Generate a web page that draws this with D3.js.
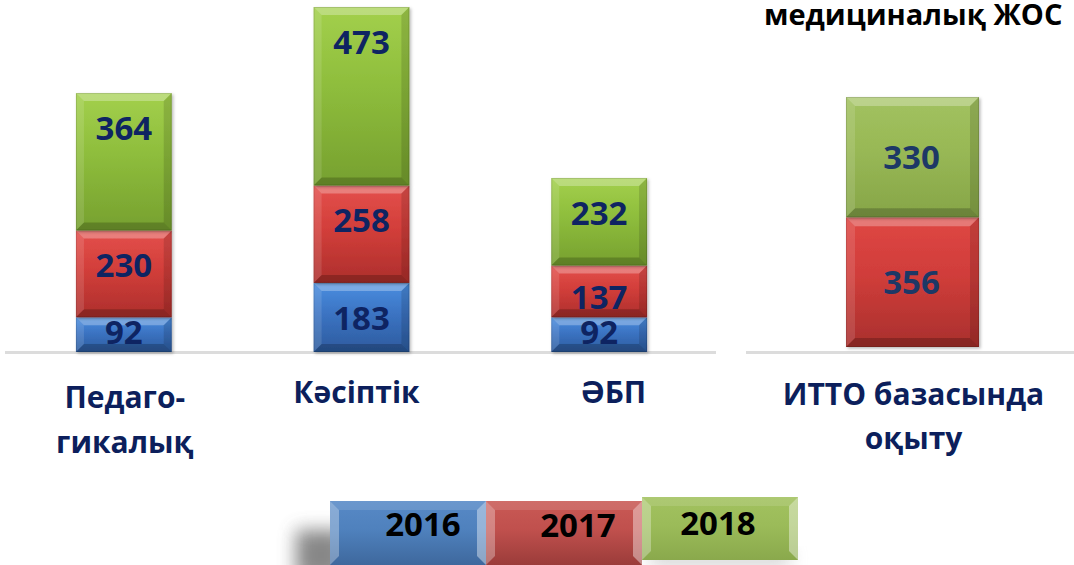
<!DOCTYPE html>
<html><head><meta charset="utf-8">
<script src="https://cdn.jsdelivr.net/npm/d3@7"></script>
<style>body{margin:0;background:#fff;overflow:hidden} svg{display:block;font-family:"Open Sans",sans-serif;}</style>
</head><body><svg id="c" width="1074" height="565"></svg>
<script>
// ---------- data ----------
const categories = ["Педаго-\nгикалық", "Кәсіптік", "ӘБП"];
const years = ["2016", "2017", "2018"];
const values2016 = [92, 183, 92];
const values2017 = [230, 258, 137];
const values2018 = [364, 473, 232];
const rightCategories = ["ИТТО базасында\nоқыту"];
const rightYears = ["2017", "2018"];
const right2017 = [356];
const right2018 = [330];
const titleText = "медициналық ЖОС";

// ---------- layout / style ----------
const svg = d3.select("#c");
const defs = svg.append("defs");
const colLeft = {
  "2016": ["#4a8ee0", "#3b73c2", "#2d5b9e"],
  "2017": ["#e4504c", "#d23e3a", "#ad2f2c"],
  "2018": ["#a3d04c", "#8ebd3c", "#76a02f"]
};
const colRight = {
  "2017": ["#df4744", "#d03d3a", "#a9302d"],
  "2018": ["#a2c260", "#98b855", "#86a548"]
};
const colLegend = {
  "2016": ["#5789c6", "#4f81bd", "#3e689d"],
  "2017": ["#c95955", "#c0504d", "#9b3c3a"],
  "2018": ["#a2c25f", "#9bbb59", "#8aa94c"]
};
function grad(id, c) {
  const g = defs.append("linearGradient").attr("id", id).attr("x1", 0).attr("y1", 0).attr("x2", 0).attr("y2", 1);
  g.append("stop").attr("offset", "0%").attr("stop-color", c[0]);
  g.append("stop").attr("offset", "45%").attr("stop-color", c[1]);
  g.append("stop").attr("offset", "100%").attr("stop-color", c[2]);
  return "url(#" + id + ")";
}
const sh = defs.append("filter").attr("id", "sh").attr("x", "-20%").attr("y", "-20%").attr("width", "140%").attr("height", "140%");
sh.append("feDropShadow").attr("dx", 1.5).attr("dy", 1.5).attr("stdDeviation", 1.8).attr("flood-color", "#000").attr("flood-opacity", 0.28);
const blur = defs.append("filter").attr("id", "blur").attr("x", "-50%").attr("y", "-50%").attr("width", "200%").attr("height", "200%");
blur.append("feGaussianBlur").attr("stdDeviation", 9);

function bevelBox(g, x, y, w, h, b, fill) {
  const grp = g.append("g").attr("filter", "url(#sh)");
  grp.append("rect").attr("x", x).attr("y", y).attr("width", w).attr("height", h).attr("fill", fill);
  const bb = Math.min(b, h / 3);
  const poly = (pts, f, o) => grp.append("polygon").attr("points", pts.map(p => p.join(",")).join(" ")).attr("fill", f).attr("fill-opacity", o);
  poly([[x, y], [x + w, y], [x + w - bb, y + bb], [x + bb, y + bb]], "#fff", 0.28);
  poly([[x, y], [x + bb, y + bb], [x + bb, y + h - bb], [x, y + h]], "#fff", 0.12);
  poly([[x + w, y], [x + w, y + h], [x + w - bb, y + h - bb], [x + w - bb, y + bb]], "#000", 0.13);
  poly([[x, y + h], [x + bb, y + h - bb], [x + w - bb, y + h - bb], [x + w, y + h]], "#000", 0.2);
  grp.append("rect").attr("x", x + 0.5).attr("y", y + 0.5).attr("width", w - 1).attr("height", h - 1)
    .attr("fill", "none").attr("stroke", "#000").attr("stroke-opacity", 0.12);
}

// ---------- left panel ----------
const baseL = 352;
const xL = d3.scaleBand().domain(categories).range([5, 718]).paddingInner(0.597).paddingOuter(0.2985);
const totalsL = categories.map((c, i) => values2016[i] + values2017[i] + values2018[i]);
const yL = d3.scaleLinear().domain([0, d3.max(totalsL)]).range([baseL, 7]);
const rowsL = categories.map((c, i) => ({cat: c, "2016": values2016[i], "2017": values2017[i], "2018": values2018[i]}));
const stackL = d3.stack().keys(years)(rowsL);

svg.append("line").attr("x1", xL.range()[0]).attr("x2", 716).attr("y1", baseL + 0.5).attr("y2", baseL + 0.5)
  .attr("stroke", "#dcdcdc").attr("stroke-width", 3);

const gL = svg.append("g");
stackL.forEach(layer => {
  const key = layer.key;
  const fill = grad("gl" + key, colLeft[key]);
  layer.forEach(d => {
    const x = xL(d.data.cat), w = xL.bandwidth();
    const y0 = yL(d[1]), y1 = yL(d[0]);
    bevelBox(gL, x, y0, w, y1 - y0, 8, fill);
  });
});
stackL.forEach(layer => {
  layer.forEach(d => {
    const y0 = yL(d[1]), h = yL(d[0]) - y0;
    const cy = y0 + (h >= 45 ? Math.min(35, h / 2 + 6) : h / 2 - 2);
    gL.append("text").attr("x", xL(d.data.cat) + xL.bandwidth() / 2).attr("y", cy + 11.8)
      .attr("text-anchor", "middle").attr("font-size", 33).attr("font-weight", 700).attr("fill", "#0e2462")
      .text(d.data[layer.key]);
  });
});

// category labels
const labelDx = [1, -5, 14];
const labelBase = [408, 403, 403];
categories.forEach((c, i) => {
  const t = svg.append("text").attr("text-anchor", "middle").attr("font-size", 30).attr("font-weight", 700).attr("fill", "#0c1f5c");
  c.split("\n").forEach((ln, j) => {
    t.append("tspan").attr("x", xL(c) + xL.bandwidth() / 2 + labelDx[i]).attr("y", labelBase[i] + j * 45).text(ln);
  });
});

// ---------- right panel ----------
const baseR = 347;
const xR = d3.scaleBand().domain(rightCategories).range([846, 979]).padding(0);
const totalsR = rightCategories.map((c, i) => right2017[i] + right2018[i]);
const yR = d3.scaleLinear().domain([0, d3.max(totalsR)]).range([baseR, 97]);
const rowsR = rightCategories.map((c, i) => ({cat: c, "2017": right2017[i], "2018": right2018[i]}));
const stackR = d3.stack().keys(rightYears)(rowsR);

svg.append("line").attr("x1", 746).attr("x2", 1074).attr("y1", 352.5).attr("y2", 352.5)
  .attr("stroke", "#dcdcdc").attr("stroke-width", 3);
const gR = svg.append("g");
stackR.forEach(layer => {
  const fill = grad("gr" + layer.key, colRight[layer.key]);
  layer.forEach(d => {
    const y0 = yR(d[1]), y1 = yR(d[0]);
    bevelBox(gR, xR(d.data.cat), y0, xR.bandwidth(), y1 - y0, 9, fill);
  });
});
stackR.forEach(layer => {
  layer.forEach(d => {
    const y0 = yR(d[1]), y1 = yR(d[0]);
    gR.append("text").attr("x", xR(d.data.cat) + xR.bandwidth() / 2 - 1).attr("y", (y0 + y1) / 2 + 11.8)
      .attr("text-anchor", "middle").attr("font-size", 33).attr("font-weight", 700).attr("fill", "#1d3866")
      .text(d.data[layer.key]);
  });
});
rightCategories.forEach(c => {
  const t = svg.append("text").attr("text-anchor", "middle").attr("font-size", 30).attr("font-weight", 700).attr("fill", "#0c1f5c");
  c.split("\n").forEach((ln, j) => {
    t.append("tspan").attr("x", xR(c) + xR.bandwidth() / 2 + 1).attr("y", 405 + j * 44).text(ln);
  });
});

// title
svg.append("text").attr("x", 764).attr("y", 25).attr("font-size", 29).attr("font-weight", 700).attr("fill", "#000").text(titleText);

// ---------- legend ----------
const xLeg = d3.scaleBand().domain(years).range([330, 798]);
svg.append("rect").attr("x", 296).attr("y", 530).attr("width", 50).attr("height", 50).attr("fill", "#555").attr("opacity", 0.7).attr("filter", "url(#blur)");
svg.append("rect").attr("x", 650).attr("y", 552).attr("width", 140).attr("height", 12).attr("fill", "#888").attr("opacity", 0.5).attr("filter", "url(#blur)");
const legTop = {"2016": 501, "2017": 501, "2018": 497};
const legH = {"2016": 64, "2017": 64, "2018": 63};
const legDx = {"2016": 15, "2017": 14, "2018": -2};
const legBase = {"2016": 536, "2017": 537, "2018": 535};
years.forEach(y => {
  const fill = grad("lg" + y, colLegend[y]);
  const x = xLeg(y), w = xLeg.bandwidth();
  const g = svg.append("g");
  g.append("rect").attr("x", x).attr("y", legTop[y]).attr("width", w).attr("height", legH[y]).attr("fill", fill);
  const b = 9, yy = legTop[y], h = legH[y];
  g.append("polygon").attr("points", `${x},${yy} ${x + b},${yy + b} ${x + b},${yy + h - b} ${x},${yy + h}`).attr("fill", "#fff").attr("fill-opacity", 0.3);
  g.append("polygon").attr("points", `${x + w},${yy} ${x + w},${yy + h} ${x + w - b},${yy + h - b} ${x + w - b},${yy + b}`).attr("fill", "#fff").attr("fill-opacity", 0.4);
  g.append("polygon").attr("points", `${x},${yy} ${x + w},${yy} ${x + w - b},${yy + b} ${x + b},${yy + b}`).attr("fill", "#fff").attr("fill-opacity", 0.12);
  g.append("text").attr("x", x + w / 2 + legDx[y]).attr("y", legBase[y]).attr("text-anchor", "middle")
    .attr("font-size", 33).attr("font-weight", 700).attr("fill", "#000").text(y);
});
</script></body></html>
